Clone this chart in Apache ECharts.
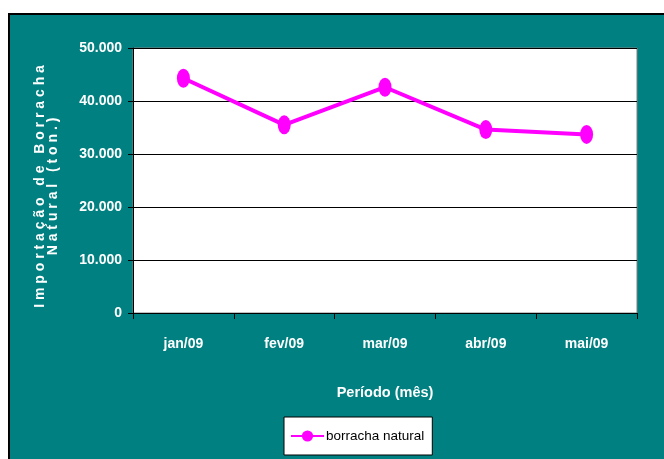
<!DOCTYPE html>
<html>
<head>
<meta charset="utf-8">
<script src="https://cdn.jsdelivr.net/npm/echarts@6/dist/echarts.min.js"></script>
<style>
  html, body { margin: 0; padding: 0; background: #fff; }
  #chart { width: 664px; height: 459px; }
</style>
</head>
<body>
<div id="chart"></div>
<script>
// data
const months = ["jan/09", "fev/09", "mar/09", "abr/09", "mai/09"];
const borrachaNatural = [44300, 35500, 42600, 34600, 33700];
const yTicks = [0, 10000, 20000, 30000, 40000, 50000];

const sans = '"Liberation Sans", Arial, sans-serif';

// 50000 -> "50.000"
function fmt(v) {
  return String(v).replace(/\B(?=(\d{3})+(?!\d))/g, ".");
}

const chart = echarts.init(document.getElementById("chart"));

chart.setOption({
  backgroundColor: "#008080",
  animation: false,
  graphic: [
    // white strip above / left of the teal frame
    { type: "rect", shape: { x: 0, y: 0, width: 664, height: 13 }, style: { fill: "#fff" }, silent: true },
    { type: "rect", shape: { x: 0, y: 0, width: 8, height: 459 }, style: { fill: "#fff" }, silent: true },
    { type: "line", shape: { x1: 8, y1: 14, x2: 664, y2: 14 }, style: { stroke: "#000", lineWidth: 2 }, silent: true },
    { type: "line", shape: { x1: 9, y1: 13, x2: 9, y2: 459 }, style: { stroke: "#000", lineWidth: 2 }, silent: true }
  ],
  grid: {
    left: 133,
    right: 27,
    top: 48,
    bottom: 146,
    show: true,
    backgroundColor: "#fff",
    borderColor: "#808080",
    borderWidth: 1
  },
  legend: {
    data: ["borracha natural"],
    left: 284,
    top: 417,
    backgroundColor: "#fff",
    borderColor: "#000",
    borderWidth: 1,
    borderRadius: 0,
    padding: [12, 8, 12, 6],
    itemWidth: 33,
    itemHeight: 14,
    itemGap: 4,
    textStyle: { color: "#000", fontFamily: sans, fontSize: 13.5, padding: [0, 0, 0, -3] }
  },
  xAxis: {
    type: "category",
    data: months,
    boundaryGap: true,
    name: "Período (mês)",
    nameLocation: "middle",
    nameGap: 72,
    nameTextStyle: { color: "#fff", fontFamily: sans, fontSize: 14.5, fontWeight: "bold" },
    axisLine: { lineStyle: { color: "#000", width: 1 } },
    axisTick: { show: true, alignWithLabel: false, length: 6, lineStyle: { color: "#000" } },
    axisLabel: { color: "#fff", fontFamily: sans, fontSize: 14, fontWeight: "bold", margin: 24 }
  },
  yAxis: {
    type: "value",
    min: yTicks[0],
    max: yTicks[yTicks.length - 1],
    interval: yTicks[1] - yTicks[0],
    name: "I m p o r t a ç ã o   d e   B o r r a c h a\nN a t u r a l   ( t o n . )",
    nameLocation: "middle",
    nameRotate: 90,
    nameGap: 73,
    nameTextStyle: {
      color: "#fff", fontFamily: sans, fontSize: 14, fontWeight: "bold",
      lineHeight: 13, align: "center", padding: [0, 12, 0, 0]
    },
    axisLine: { show: true, lineStyle: { color: "#000", width: 1 } },
    axisTick: { show: true, length: 5, lineStyle: { color: "#000" } },
    splitLine: { show: true, lineStyle: { color: "#000", width: 1 } },
    axisLabel: {
      color: "#fff", fontFamily: sans, fontSize: 14, fontWeight: "bold", margin: 11,
      formatter: fmt
    }
  },
  series: [
    {
      name: "borracha natural",
      type: "line",
      data: borrachaNatural,
      symbol: "circle",
      symbolSize: [13, 19],
      lineStyle: { color: "#ff00ff", width: 4 },
      itemStyle: { color: "#ff00ff" }
    }
  ]
});
</script>
</body>
</html>
